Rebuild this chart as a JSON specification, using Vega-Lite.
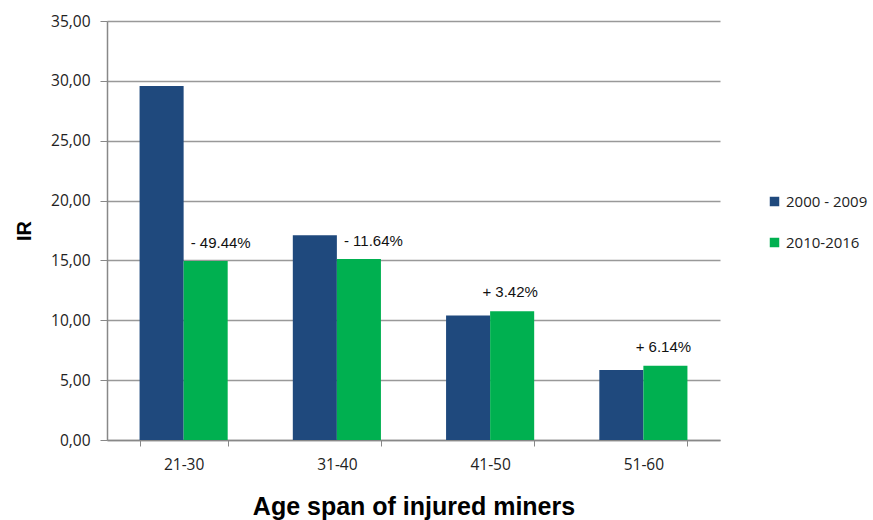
{
  "$schema": "https://vega.github.io/schema/vega-lite/v6.json",
  "width": 613,
  "height": 419,
  "autosize": {"type": "none"},
  "padding": {"left": 107, "top": 21, "right": 153, "bottom": 80},
  "background": "white",
  "config": {"view": {"stroke": null}},
  "datasets": {
    "bars": [
      {"age": "21-30", "period": "2000 - 2009", "IR": 29.57},
      {"age": "21-30", "period": "2010-2016", "IR": 14.95},
      {"age": "31-40", "period": "2000 - 2009", "IR": 17.1},
      {"age": "31-40", "period": "2010-2016", "IR": 15.11},
      {"age": "41-50", "period": "2000 - 2009", "IR": 10.39},
      {"age": "41-50", "period": "2010-2016", "IR": 10.75},
      {"age": "51-60", "period": "2000 - 2009", "IR": 5.85},
      {"age": "51-60", "period": "2010-2016", "IR": 6.21}
    ],
    "labels": [
      {"age": "21-30", "period": "2010-2016", "IR": 14.95, "label": "- 49.44%", "sign": "neg"},
      {"age": "31-40", "period": "2010-2016", "IR": 15.11, "label": "- 11.64%", "sign": "neg"},
      {"age": "41-50", "period": "2010-2016", "IR": 10.75, "label": "+ 3.42%", "sign": "pos"},
      {"age": "51-60", "period": "2010-2016", "IR": 6.21, "label": "+ 6.14%", "sign": "pos"}
    ]
  },
  "encoding": {
    "x": {
      "field": "age", "type": "nominal",
      "scale": {"paddingInner": 0.425, "paddingOuter": 0.2125},
      "axis": {
        "title": "Age span of injured miners",
        "titleFont": "Liberation Sans", "titleFontSize": 25, "titleFontWeight": "bold", "titleColor": "#000000",
        "titlePadding": 22,
        "labelAngle": 0, "labelFont": "Open Sans", "labelFontSize": 15.5, "labelColor": "#222222",
        "labelPadding": 11,
        "tickBand": "extent", "tickSize": 6, "tickColor": "#888888", "domainColor": "#888888", "domainWidth": 1.5
      }
    },
    "xOffset": {"field": "period", "type": "nominal", "scale": {"paddingInner": 0, "paddingOuter": 0}},
    "y": {
      "field": "IR", "type": "quantitative",
      "scale": {"domain": [0, 35], "nice": false},
      "axis": {
        "title": "IR", "titleFont": "Liberation Sans", "titleFontSize": 20, "titleFontWeight": "bold", "titleColor": "#000000",
        "titlePadding": 16,
        "values": [0, 5, 10, 15, 20, 25, 30, 35],
        "labelExpr": "replace(format(datum.value, '.2f'), '.', ',')",
        "labelFont": "Open Sans", "labelFontSize": 15.5, "labelColor": "#222222", "labelPadding": 10,
        "tickSize": 7, "tickColor": "#888888", "domainColor": "#888888", "domainWidth": 1.5,
        "grid": true, "gridColor": "#999999", "gridWidth": 1.3
      }
    }
  },
  "layer": [
    {
      "data": {"name": "bars"},
      "mark": {"type": "bar"},
      "encoding": {
        "color": {
          "field": "period", "type": "nominal",
          "scale": {"domain": ["2000 - 2009", "2010-2016"], "range": ["#1F497D", "#00B050"]},
          "legend": {
            "title": null, "orient": "none", "legendX": 660, "legendY": 173,
            "symbolType": "square", "symbolSize": 90, "symbolStrokeWidth": 0,
            "labelFont": "Open Sans", "labelFontSize": 15, "labelColor": "#222222",
            "rowPadding": 25, "labelOffset": 4
          }
        }
      }
    },
    {
      "data": {"name": "labels"},
      "transform": [{"filter": "datum.sign == 'neg'"}],
      "mark": {"type": "text", "align": "left", "baseline": "middle", "dx": -15, "dy": -18, "font": "Liberation Sans", "fontSize": 15, "color": "#111111"},
      "encoding": {"text": {"field": "label"}}
    },
    {
      "data": {"name": "labels"},
      "transform": [{"filter": "datum.sign == 'pos'"}],
      "mark": {"type": "text", "align": "center", "baseline": "middle", "dx": -2, "dy": -19, "font": "Liberation Sans", "fontSize": 15, "color": "#111111"},
      "encoding": {"text": {"field": "label"}}
    }
  ]
}
